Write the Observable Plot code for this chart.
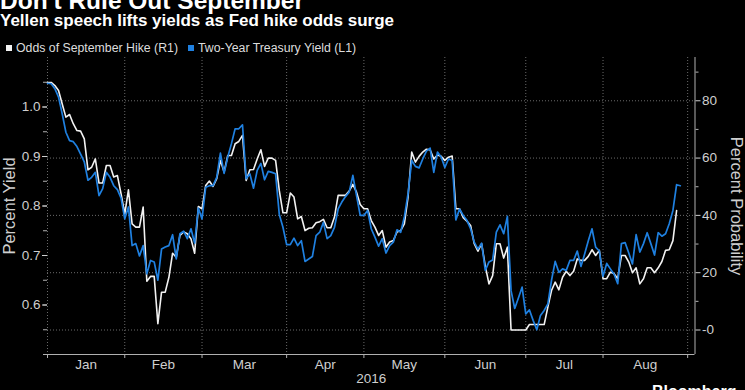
<!DOCTYPE html>
<html>
<head>
<meta charset="utf-8">
<script src="https://cdn.jsdelivr.net/npm/d3@7"></script>
<script src="https://cdn.jsdelivr.net/npm/@observablehq/plot@0.6"></script>
<style>
  html, body { margin:0; padding:0; background:#000; width:745px; height:390px; overflow:hidden; }
  #wrap { position:relative; width:745px; height:390px; background:#000; }
  #chart { position:absolute; left:0; top:0; }
  .hdr { position:absolute; left:0; white-space:nowrap; color:#fff; font-family:"Liberation Sans", Arial, sans-serif; line-height:1; }
  #title { top:-10.5px; font-weight:bold; font-size:24.5px; line-height:0.9; }
  #subtitle { top:12px; font-weight:bold; font-size:17px; }
  #legend { top:42px; left:6px; font-size:12.3px; color:#ddd; }
  #legend .sw { display:inline-block; width:6px; height:6px; margin-right:4px; vertical-align:1px; }
  #legend .item { margin-right:10px; }
  #logo { top:384px; left:652px; font-weight:bold; font-size:16px; color:#fff; }
</style>
</head>
<body>
<div id="wrap">
  <div id="chart"></div>
  <div id="title" class="hdr">Don't Rule Out September</div>
  <div id="subtitle" class="hdr">Yellen speech lifts yields as Fed hike odds surge</div>
  <div id="legend" class="hdr"><span class="item"><span class="sw" style="background:#f2f2f2"></span>Odds of September Hike (R1)</span><span class="item"><span class="sw" style="background:#1f80e0"></span>Two-Year Treasury Yield (L1)</span></div>
  <div id="logo" class="hdr">Bloomberg</div>
</div>
<script>
// ---- data (one value per weekday, starting Fri 2016-01-01) ----
const months = ["Jan","Feb","Mar","Apr","May","Jun","Jul","Aug"];
const yearLabel = "2016";
const yieldTicks = [0.6, 0.7, 0.8, 0.9, 1.0];
const probTicks = [0, 20, 40, 60, 80];
const probMinorTicks = [10, 30, 50, 70, 90];

// Two-Year Treasury Yield (L1), percent
const twoYearYield = [
  1.048,1.047,1.037,1.020,0.986,0.949,0.932,0.930,0.920,0.905,
  0.889,0.852,0.858,0.868,0.821,0.835,0.868,0.858,0.841,0.833,
  0.816,0.774,0.798,0.720,0.724,0.699,0.720,0.663,0.690,0.687,
  0.650,0.713,0.717,0.720,0.742,0.693,0.744,0.749,0.734,0.754,
  0.725,0.796,0.774,0.838,0.841,0.841,0.858,0.907,0.866,0.899,
  0.926,0.956,0.956,0.964,0.855,0.865,0.836,0.872,0.886,0.853,
  0.870,0.868,0.865,0.783,0.757,0.722,0.722,0.735,0.720,0.730,
  0.688,0.693,0.698,0.740,0.747,0.767,0.734,0.740,0.757,0.794,
  0.808,0.819,0.828,0.862,0.821,0.781,0.781,0.791,0.754,0.737,
  0.719,0.734,0.705,0.720,0.727,0.752,0.747,0.778,0.825,0.892,
  0.880,0.877,0.895,0.911,0.917,0.868,0.909,0.899,0.878,0.895,
  0.892,0.772,0.794,0.781,0.771,0.754,0.727,0.713,0.725,0.670,
  0.687,0.691,0.747,0.762,0.744,0.779,0.629,0.593,0.614,0.636,
  0.582,0.590,0.569,0.550,0.579,0.589,0.602,0.650,0.688,0.666,
  0.673,0.670,0.690,0.690,0.709,0.678,0.703,0.730,0.754,0.717,
  0.709,0.658,0.684,0.673,0.662,0.643,0.724,0.726,0.705,0.683,
  0.742,0.707,0.724,0.746,0.724,0.701,0.746,0.739,0.744,0.764,
  0.791,0.843,0.841
];

// Odds of September Hike (R1), percent probability
const hikeOdds = [
  86.4,86.4,85.3,83.6,78.9,74.3,75.2,72.0,69.6,69.4,
  66.7,55.9,56.8,59.7,51.3,51.3,57.4,57.4,53.4,53.9,
  47.5,40.5,48.9,37.0,35.9,35.9,42.9,17.0,18.7,18.7,
  2.2,13.2,13.2,18.4,26.8,25.4,33.0,34.2,33.6,31.8,
  26.8,43.1,42.3,50.4,52.0,50.1,52.8,59.2,55.1,60.9,
  60.9,65.0,65.8,67.9,52.2,55.9,56.0,59.7,62.9,57.1,
  60.0,60.0,59.2,48.7,40.9,40.9,47.8,46.4,38.8,39.6,
  34.7,35.5,35.7,37.4,37.8,38.6,35.7,35.7,39.4,47.0,
  47.0,47.0,48.5,50.8,48.1,43.8,42.3,42.3,38.2,35.9,
  33.0,34.7,28.9,30.7,31.2,34.2,34.7,37.0,46.4,62.1,
  58.6,60.6,62.1,63.1,62.9,59.7,61.1,60.6,59.2,60.3,
  60.7,42.3,42.3,39.2,38.0,36.5,30.1,27.5,30.1,22.3,
  16.1,19.0,30.1,30.1,25.1,28.9,0,0,0,0,
  0,1.9,1.9,1.9,1.9,1.9,8.0,13.8,16.7,14.0,
  18.4,20.5,19.0,20.5,24.8,24.3,24.3,25.7,28.0,26.0,
  27.8,17.9,17.9,20.2,19.6,17.9,26.0,26.0,23.7,20.0,
  21.7,16.1,17.9,21.7,21.7,20.0,21.7,23.9,27.8,28.0,
  31.2,41.7
];

// ---- weekday calendar (x axis skips weekends) ----
const days = [];
for (let t = Date.UTC(2016, 0, 1); days.length < 200; t += 864e5) {
  const d = new Date(t), w = d.getUTCDay();
  if (w !== 0 && w !== 6) days.push(d);
}
const monthStarts = d3.range(0, 9).map(m => days.findIndex(d => d.getUTCMonth() === m));
const monthMids = months.map((m, k) => (monthStarts[k] + monthStarts[k + 1]) / 2);
const midLabel = new Map(monthMids.map((v, k) => [v, months[k]]));
const xDomain = [0, 176];
const xCenter = (xDomain[0] + xDomain[1]) / 2;

// right axis (probability) expressed in left-axis (yield) units
const yDomain = [0.5, 1.1];
const p2y = d3.scaleLinear([-8.55, 95.1], yDomain);

const yieldData = twoYearYield.map((v, i) => ({i, v}));
const oddsData = hikeOdds.map((p, i) => ({i, v: p2y(p)}));

const grid = {stroke:"#6a6a6a", strokeOpacity:1, strokeDasharray:"1,2", strokeWidth:1};

const chart = Plot.plot({
  width: 745, height: 390,
  marginLeft: 47, marginRight: 50.5, marginTop: 57, marginBottom: 36,
  style: {background:"#000", color:"#cfcfcf", fontFamily:"'Liberation Sans', Arial, sans-serif", fontSize:"13.5px"},
  x: {domain: xDomain, label: null},
  y: {domain: yDomain, label: null},
  marks: [
    Plot.gridY(probTicks.map(p2y), grid),
    Plot.gridX(monthStarts, grid),
    Plot.ruleY([yDomain[0]], {stroke:"#b0b0b0", strokeWidth:1}),
    Plot.ruleX([xDomain[1]], {stroke:"#b0b0b0", strokeWidth:1}),
    // x axis: month boundary ticks, month labels, year
    Plot.axisX(monthStarts, {tickSize:4, tickFormat:() => "", color:"#b0b0b0", label:null}),
    Plot.axisX(monthMids, {tickSize:0, tickPadding:5, tickFormat:d => midLabel.get(d), color:"#cfcfcf", label:null}),
    Plot.axisX([xCenter], {tickSize:0, tickPadding:19, tickFormat:() => yearLabel, color:"#cfcfcf", label:null}),
    // left axis (yield)
    Plot.axisY(d3.range(0, 12).map(k => 0.5 + k * 0.05), {anchor:"left", tickSize:4, tickFormat:() => "", color:"#b0b0b0", label:null}),
    Plot.axisY(yieldTicks, {anchor:"left", tickSize:5, tickPadding:2, tickFormat:d3.format(".1f"), color:"#cfcfcf", label:null}),
    // right axis (probability)
    Plot.axisY(probMinorTicks.map(p2y), {anchor:"right", tickSize:3, tickFormat:() => "", color:"#b0b0b0", label:null}),
    Plot.axisY(probTicks.map(p2y), {anchor:"right", tickSize:5, tickPadding:2, tickFormat:d => Math.round(p2y.invert(d)), color:"#cfcfcf", label:null}),
    // axis titles
    Plot.text(["Percent Yield"], {frameAnchor:"left", rotate:-90, dx:-38, textAnchor:"middle", lineAnchor:"middle", fontSize:16.5, fill:"#cfcfcf"}),
    Plot.text(["Percent Probability"], {frameAnchor:"right", rotate:90, dx:41.5, textAnchor:"middle", lineAnchor:"middle", fontSize:16.5, fill:"#cfcfcf"}),
    // series
    Plot.line(oddsData, {x:"i", y:"v", stroke:"#f2f2f2", strokeWidth:1.6}),
    Plot.line(yieldData, {x:"i", y:"v", stroke:"#1f80e0", strokeWidth:1.7})
  ]
});
document.getElementById("chart").appendChild(chart);
</script>
</body>
</html>
